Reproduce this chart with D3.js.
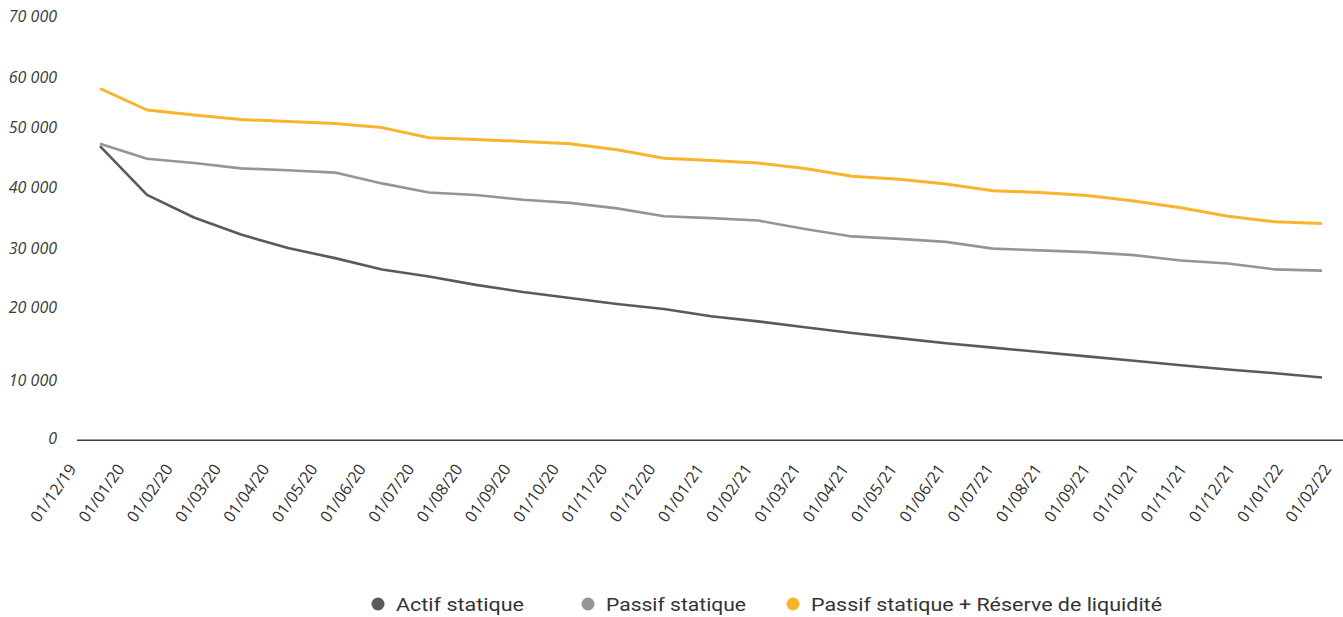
<!DOCTYPE html>
<html>
<head>
<meta charset="utf-8">
<script src="https://cdn.jsdelivr.net/npm/d3@7"></script>
<style>
  html, body { margin: 0; padding: 0; background: #ffffff; }
  svg { display: block; }
</style>
</head>
<body>
<div id="chart"></div>
<script>
const categories = ["01/12/19","01/01/20","01/02/20","01/03/20","01/04/20","01/05/20","01/06/20","01/07/20","01/08/20","01/09/20","01/10/20","01/11/20","01/12/20","01/01/21","01/02/21","01/03/21","01/04/21","01/05/21","01/06/21","01/07/21","01/08/21","01/09/21","01/10/21","01/11/21","01/12/21","01/01/22","01/02/22"];

const actifStatique = [46800,38700,35000,32200,30000,28300,26400,25200,23800,22600,21600,20600,19800,18800,18100,17300,16500,15800,15100,14500,13900,13300,12700,12100,11500,11000,10400];
const passifStatique = [47200,44700,44000,43100,42800,42400,40600,39100,38700,37900,37400,36500,35200,34900,34500,33100,31900,31500,31000,29900,29600,29300,28800,27900,27400,26400,26200];
const passifReserve = [57700,53400,52400,51500,51100,50700,49900,48200,47900,47600,47200,46200,44800,44400,44000,43100,41800,41300,40500,39400,39100,38600,37700,36600,35200,34300,34000];

const seriesNames = ["Actif statique","Passif statique","Passif statique + Réserve de liquidité"];
const yTickValues = [0,10000,20000,30000,40000,50000,60000,70000];
const yTickLabels = ["0","10 000","20 000","30 000","40 000","50 000","60 000","70 000"];

const colors = ["#5a5a5a","#959595","#fbb42a"];
const widths = [2.6, 2.6, 3];

const W = 1343, H = 617;
const svg = d3.select("#chart").append("svg").attr("width", W).attr("height", H);

// x scale for data points and a slightly different one for rotated labels (as in reference)
const x = d3.scalePoint().domain(categories).range([100, 1322]);
const xLab = d3.scalePoint().domain(categories).range([77, 1332]);

// y scale follows the reference label placement
const y = d3.scaleLinear().domain(yTickValues).range([437.8, 380.5, 307.5, 248, 187, 127, 77, 16.3]);

// y labels
svg.append("g").selectAll("text").data(yTickValues).join("text")
  .attr("x", 57).attr("y", d => y(d)).attr("dy", "0.36em")
  .attr("text-anchor", "end")
  .attr("font-family", "'Open Sans', sans-serif")
  .attr("font-style", "italic")
  .attr("font-size", 16)
  .attr("fill", "#3a3a3a")
  .text((d, i) => yTickLabels[i]);

// baseline axis
svg.append("line")
  .attr("x1", 77).attr("x2", W)
  .attr("y1", y(0) + 2.5).attr("y2", y(0) + 2.5)
  .attr("stroke", "#3c3c3c").attr("stroke-width", 1.4);

// x labels
svg.append("g").selectAll("text").data(categories).join("text")
  .attr("transform", d => `translate(${xLab(d)},469) rotate(-55)`)
  .attr("text-anchor", "end")
  .attr("font-family", "'Open Sans', sans-serif")
  .attr("font-size", 16)
  .attr("fill", "#2e2e2e")
  .text(d => d);

// lines
const line = d3.line().x((d, i) => x(categories[i])).y(d => y(d));
[actifStatique, passifStatique, passifReserve].forEach((s, k) => {
  svg.append("path").datum(s)
    .attr("d", line)
    .attr("fill", "none")
    .attr("stroke", colors[k])
    .attr("stroke-width", widths[k])
    .attr("stroke-linejoin", "round")
    .attr("stroke-linecap", "butt");
});

// legend
const legendX = [378, 588, 793];
const legendW = [128, 140, 351];
const lg = svg.append("g");
seriesNames.forEach((n, k) => {
  lg.append("circle").attr("cx", legendX[k]).attr("cy", 604).attr("r", 6.5).attr("fill", colors[k]);
  lg.append("text")
    .attr("x", legendX[k] + 18).attr("y", 604).attr("dy", "0.36em")
    .attr("font-family", "'Roboto', sans-serif")
    .attr("font-size", 19)
    .attr("fill", "#333")
    .attr("textLength", legendW[k])
    .attr("lengthAdjust", "spacingAndGlyphs")
    .text(n);
});
</script>
</body>
</html>
